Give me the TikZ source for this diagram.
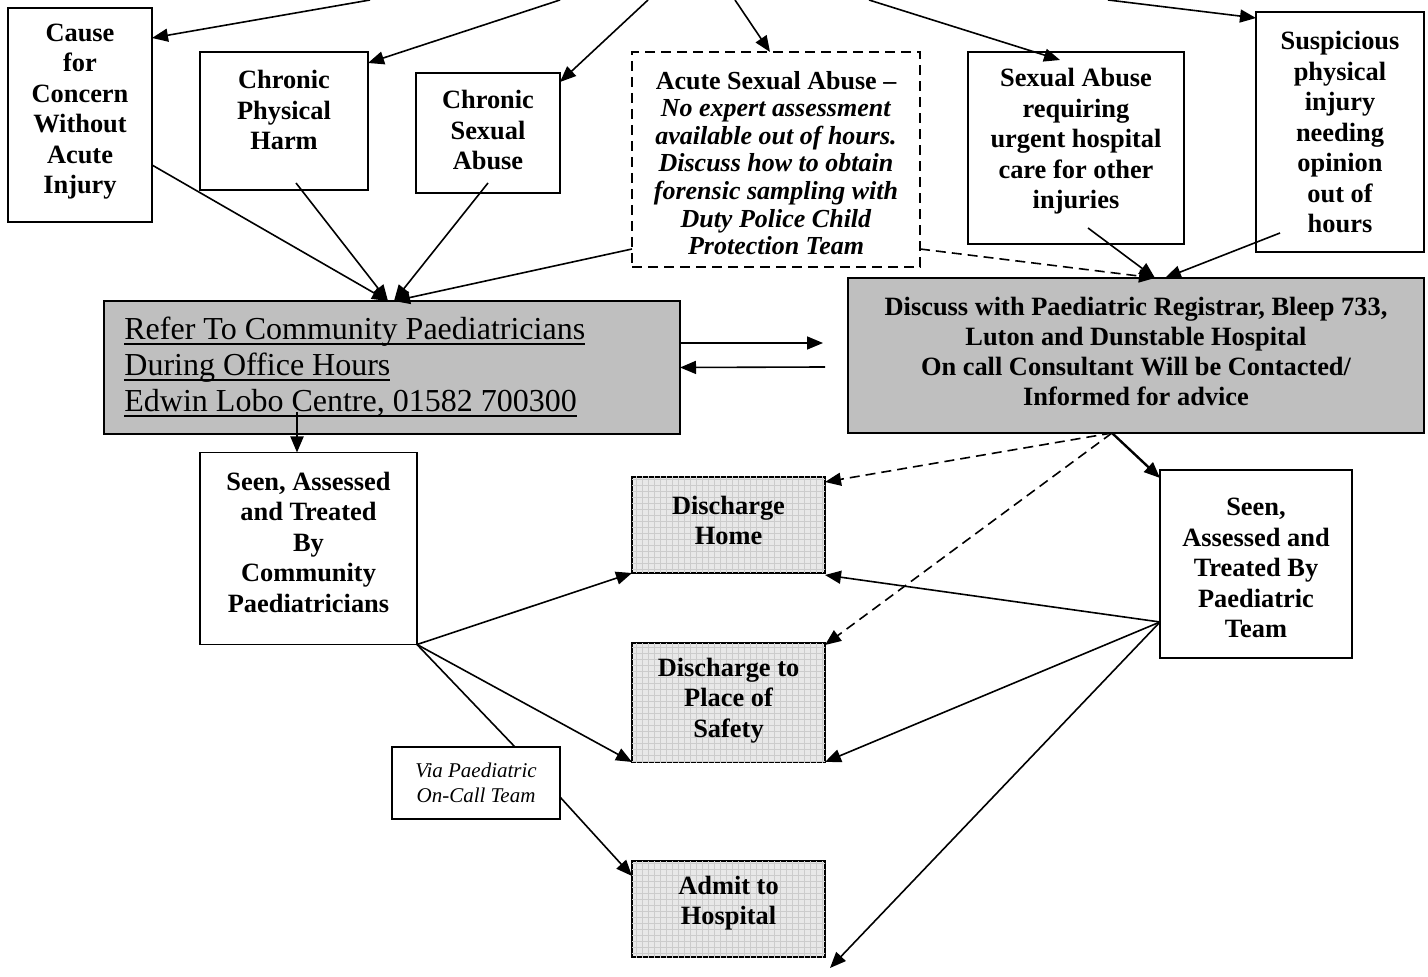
\documentclass[tikz,border=0pt]{standalone}
\usepackage{fontspec}
\setmainfont{Liberation Serif}
\usetikzlibrary{arrows.meta,patterns}

\newcommand{\undl}[1]{\setbox0\hbox{#1}\rlap{\rule[-2.6pt]{\wd0}{0.8pt}}\box0}

\tikzset{
  box/.style={draw, line width=0.9pt, inner sep=0pt, outer sep=0pt, fill=white},
  dashbox/.style={box, dash pattern=on 5pt off 3pt},
  greybox/.style={box, fill=black!25},
  gridbox/.style={box, fill=black!9, postaction={pattern=grid, pattern color=black!20}},
  lbl/.style={align=center, inner sep=0pt, font=\fontsize{13.2}{15.25}\selectfont\bfseries},
  conn/.style={line width=0.8pt},
  dconn/.style={conn, dash pattern=on 5pt off 3pt},
}

\begin{document}
\begin{tikzpicture}[x=0.5pt,y=-0.5pt,>={Triangle[length=8pt,width=6.5pt]}]
\useasboundingbox (0,0) rectangle (1428,977);

\node[box, minimum width=72pt, minimum height=107pt] (cause) at (80,115) {};
\node[box, minimum width=84pt, minimum height=69pt] (chp) at (284,121) {};
\node[box, minimum width=72pt, minimum height=60pt] (csa) at (488,133) {};
\node[dashbox, minimum width=144pt, minimum height=107.5pt] (acute) at (776,159.5) {};
\node[box, minimum width=108pt, minimum height=96pt] (sareq) at (1076,148) {};
\node[box, minimum width=84pt, minimum height=120pt] (susp) at (1340,132) {};

\node[greybox, minimum width=288pt, minimum height=66.5pt] (refer) at (392,367.5) {};
\node[greybox, minimum width=288pt, minimum height=77.5pt] (discuss) at (1136,355.5) {};

\node[box, minimum width=108.5pt, minimum height=96pt] (seencom) at (308.5,548.5) {};
\node[gridbox, minimum width=96.5pt, minimum height=48pt] (home) at (728.5,525) {};
\node[gridbox, minimum width=96.5pt, minimum height=59.5pt] (safety) at (728.5,702.5) {};
\node[gridbox, minimum width=96.5pt, minimum height=48pt] (admit) at (728.5,909) {};
\node[box, minimum width=96pt, minimum height=94pt] (seenpaed) at (1256,564) {};
\node[box, line width=0.7pt, minimum width=84pt, minimum height=36pt] (via) at (476,783) {};

\node[lbl] (causeT) at (80,111.5) {Cause\\for\\Concern\\Without\\Acute\\Injury};
\node[lbl] (chpT) at (284,110) {Chronic\\Physical\\Harm};
\node[lbl] (csaT) at (488,130.5) {Chronic\\Sexual\\Abuse};
\node[lbl, font=\fontsize{13}{13.8}\selectfont\bfseries] (acuteT) at (776,163) {Acute Sexual Abuse --\\\textit{No expert assessment}\\\textit{available out of hours.}\\\textit{Discuss how to obtain}\\\textit{forensic sampling with}\\\textit{Duty Police Child}\\\textit{Protection Team}};
\node[lbl] (sareqT) at (1076,141.5) {Sexual Abuse\\requiring\\urgent hospital\\care for other\\injuries};
\node[lbl] (suspT) at (1340,132.5) {Suspicious\\physical\\injury\\needing\\opinion\\out of\\hours};
\node[anchor=west, align=left, inner sep=0pt, font=\fontsize{16}{18}\selectfont] (referT) at (124,367) {\undl{Refer To Community Paediatricians}\\\undl{During Office Hours}\\\undl{Edwin Lobo Centre, 01582 700300}};
\node[lbl, font=\fontsize{13.2}{14.85}\selectfont\bfseries] (discussT) at (1136,351.5) {Discuss with Paediatric Registrar, Bleep 733,\\Luton and Dunstable Hospital\\On call Consultant Will be Contacted/\\Informed for advice};
\node[lbl] (seencomT) at (308.5,542) {Seen, Assessed\\and Treated\\By\\Community\\Paediatricians};
\node[lbl] (homeT) at (728.5,520.5) {Discharge\\Home};
\node[lbl] (safetyT) at (728.5,700.5) {Discharge to\\Place of\\Safety};
\node[lbl] (admitT) at (728.5,903) {Admit to\\Hospital};
\node[lbl] (seenpaedT) at (1256,568) {Seen,\\Assessed and\\Treated By\\Paediatric\\Team};
\node[align=center, inner sep=0pt, font=\fontsize{10.5}{12.5}\selectfont\itshape] (viaT) at (476,782.5) {Via Paediatric\\On-Call Team};

\coordinate (t1) at (370,0);
\coordinate (t2) at (560,0);
\coordinate (t3) at (648,0);
\coordinate (t4) at (735,0);
\coordinate (t5) at (869,0);
\coordinate (t6) at (1108,0);
\coordinate (offpage) at (830,968);

\draw[conn,->] (t1) -- ([yshift=-15pt]cause.north east);
\draw[conn,->] (t2) -- ([yshift=-5.5pt]chp.north east);
\draw[conn,->] (t3) -- ([yshift=-4.5pt]csa.north east);
\draw[conn,->] (t4) -- ([xshift=-3pt]acute.north);
\draw[conn,->] (t5) -- ([xshift=-8pt,yshift=-4pt]sareq.north);
\draw[conn,->] (t6) -- ([yshift=-3pt]susp.north west);

\draw[conn,->] ([yshift=-25pt]cause.east) -- ([xshift=-2pt]refer.north);
\draw[conn,->] ([xshift=6pt,yshift=3.5pt]chp.south) -- ([xshift=-2pt]refer.north);
\draw[conn,->] ([yshift=5pt]csa.south) -- ([xshift=1pt]refer.north);
\draw[conn,->] ([yshift=9pt]acute.south west) -- ([xshift=1pt]refer.north);
\draw[dconn,->] ([yshift=9pt]acute.south east) -- ([xshift=9.5pt]discuss.north);
\draw[conn,->] ([xshift=6pt,yshift=8pt]sareq.south) -- ([xshift=9.5pt]discuss.north);
\draw[conn,->] ([xshift=-30pt,yshift=9.5pt]susp.south) -- ([xshift=14.5pt]discuss.north);

\draw[conn,->] ([yshift=12.25pt]refer.east) -- ([xshift=-12.5pt,yshift=6.25pt]discuss.west);
\draw[conn,->] ([xshift=-11.5pt,yshift=-5.75pt]discuss.west) -- (refer.east);
\draw[line width=1pt,->] ([xshift=-47.5pt,yshift=11pt]refer.south) -- ([xshift=-5.75pt]seencom.north);

\draw[line width=1.2pt,->] ([xshift=-12pt]discuss.south) -- ([yshift=-4pt]seenpaed.north west);
\draw[dconn,->] ([xshift=-12pt]discuss.south) -- ([yshift=-2.5pt]home.north east);
\draw[dconn,->] ([xshift=-12pt]discuss.south) -- ([yshift=-1pt]safety.north east);
\draw[conn,->] ([yshift=-29pt]seenpaed.west) -- ([yshift=-1pt]home.south east);
\draw[conn,->] ([yshift=-29pt]seenpaed.west) -- (safety.south east);
\draw[conn,->] ([yshift=-29pt]seenpaed.west) -- (offpage);

\draw[conn,->] (seencom.south east) -- (home.south west);
\draw[conn,->] (seencom.south east) -- (safety.south west);
\draw[conn] (seencom.south east) -- ([xshift=19.5pt]via.north);
\draw[conn,->] ([yshift=-7pt]via.east) -- ([yshift=-7.5pt]admit.north west);
\end{tikzpicture}
\end{document}
